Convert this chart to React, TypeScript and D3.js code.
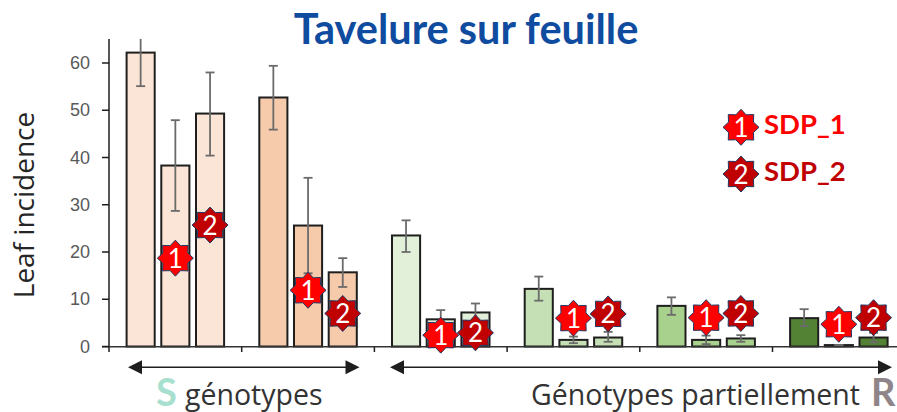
import React from "react";
import * as d3 from "d3";

const groups = ["A", "B", "C", "D", "E", "F"];
const slots = [0, 1, 2];
const groupColors = ["#fbe5d6", "#f6cbab", "#e2f0d9", "#c5e0b4", "#a9d18e", "#548235"];
const values = [62.2, 38.3, 49.3, 52.7, 25.6, 15.7, 23.5, 5.75, 7.2, 12.2, 1.4, 1.9, 8.6, 1.4, 1.7, 6.0, 0.3, 1.9];
const errHigh = [65.1, 47.9, 58, 59.4, 35.7, 18.7, 26.7, 7.7, 9.1, 14.8, 2.1, 3.1, 10.4, 2.3, 2.4, 7.9, 0.3, 2.9];
const errLow = [55.1, 28.7, 40.4, 45.9, 15.5, 12.6, 20, 3.8, 5.3, 9.7, 0.7, 1, 6.7, 0.5, 1, 4.3, 0.3, 0.9];
const markerBars = [1, 2, 4, 5, 7, 8, 10, 11, 13, 14, 16, 17];
const markerVals = [18.7, 25.7, 11.9, 7.0, 2.4, 2.9, 6.0, 6.9, 6.1, 7.0, 4.7, 6.1];
const yTicks = [0, 10, 20, 30, 40, 50, 60];
const markerColors = ["#ff0000", "#c00000"];
const legendLabels = ["SDP_1", "SDP_2"];

const W = 897;
const H = 412;
const x0 = d3.scaleBand<string>().domain(groups).range([109, 109 + 6 * 132.7]);
const x1 = d3.scaleBand<number>().domain(slots).range([0, 132.7]).paddingInner(0.19).paddingOuter(0.507);
const y = d3.scaleLinear().domain([0, 60]).range([346.5, 63]);
const cx = (i: number) => x0(groups[Math.floor(i / 3)])! + x1(i % 3)! + x1.bandwidth() / 2;

const starPts: [number, number][] = d3.range(16).map((i) => [(i * Math.PI) / 8, i % 2 === 0 ? 18 : 13.5]);
const starPath = d3.lineRadial().curve(d3.curveLinearClosed)(starPts) as string;

function Star({ x, y: yy, n }: { x: number; y: number; n: number }) {
  return (
    <g transform={`translate(${x},${yy})`}>
      <path d={starPath} fill={markerColors[n]} stroke="#1f3864" strokeWidth={1} />
      <text y={9.5} textAnchor="middle" fontFamily="Lato" fontSize={26} fill="#fff">{n + 1}</text>
    </g>
  );
}

export default function App() {
  const ink = "#1e1e1e";
  const arrow = (a: number, b: number, yy: number) => (
    <g>
      <line x1={a + 10} x2={b - 10} y1={yy} y2={yy} stroke={ink} strokeWidth={1.5} />
      <path d={d3.line()([[a, yy], [a + 14, yy - 7], [a + 14, yy + 7]]) + "Z"} fill={ink} />
      <path d={d3.line()([[b, yy], [b - 14, yy - 7], [b - 14, yy + 7]]) + "Z"} fill={ink} />
    </g>
  );
  return (
    <svg width={W} height={H} style={{ position: "absolute", left: 0, top: 0, background: "#fff" }}>
      <text x={466} y={44} textAnchor="middle" fontFamily="Lato" fontWeight={700} fontSize={41.5} fill="#0f4c9f">Tavelure sur feuille</text>

      {values.map((v, i) => (
        <rect key={i} x={cx(i) - x1.bandwidth() / 2} y={y(v)} width={x1.bandwidth()} height={y(0) - y(v)}
          fill={groupColors[Math.floor(i / 3)]} stroke={ink} strokeWidth={2} />
      ))}

      <line x1={109} x2={109} y1={39} y2={347} stroke={ink} strokeWidth={1.5} />
      <line x1={102} x2={897} y1={346.8} y2={346.8} stroke="#333" strokeWidth={1.5} />
      {yTicks.map((t) => (
        <g key={t}>
          <line x1={102} x2={109} y1={y(t)} y2={y(t)} stroke={ink} strokeWidth={1.5} />
          <text x={90} y={y(t) + 6} textAnchor="end" fontFamily="Liberation Sans" fontSize={18} fill="#595959">{t}</text>
        </g>
      ))}
      {groups.map((g) => (
        <line key={g} x1={x0(g)!} x2={x0(g)!} y1={347} y2={352} stroke={ink} strokeWidth={1.5} />
      ))}

      {values.map((_, i) => {
        const c = cx(i);
        const capped = errHigh[i] < 64;
        return (
          <g key={i} stroke="#6b6b6b" strokeWidth={1.8}>
            <line x1={c} x2={c} y1={y(errHigh[i])} y2={y(errLow[i])} />
            {capped && <line x1={c - 4.5} x2={c + 4.5} y1={y(errHigh[i])} y2={y(errHigh[i])} />}
            <line x1={c - 4.5} x2={c + 4.5} y1={y(errLow[i])} y2={y(errLow[i])} />
          </g>
        );
      })}

      {markerBars.map((b, i) => (
        <Star key={b} x={cx(b)} y={y(markerVals[i])} n={i % 2} />
      ))}

      {legendLabels.map((l, i) => (
        <g key={l}>
          <Star x={741} y={127.3 + i * 46.7} n={i} />
          <text x={764} y={134 + i * 46.7} fontFamily="Lato" fontWeight={700} fontSize={27.5} fill={markerColors[i]}>{l}</text>
        </g>
      ))}

      <text transform="translate(34,205) rotate(-90)" textAnchor="middle" fontFamily="Open Sans" fontSize={28} fill="#262626">Leaf incidence</text>

      {arrow(128, 359.5, 367.3)}
      {arrow(390, 892, 367.3)}

      <text x={156} y={406} fontFamily="Lato" fontWeight={700} fontSize={38} fill="#a8e0d0">S</text>
      <text x={185} y={405} fontFamily="Open Sans" fontSize={28.5} fill="#333">génotypes</text>
      <text x={531} y={405} fontFamily="Open Sans" fontSize={28.5} fill="#333">Génotypes partiellement</text>
      <text x={871} y={406} fontFamily="Lato" fontWeight={700} fontSize={38} fill="#8f8589">R</text>
    </svg>
  );
}
